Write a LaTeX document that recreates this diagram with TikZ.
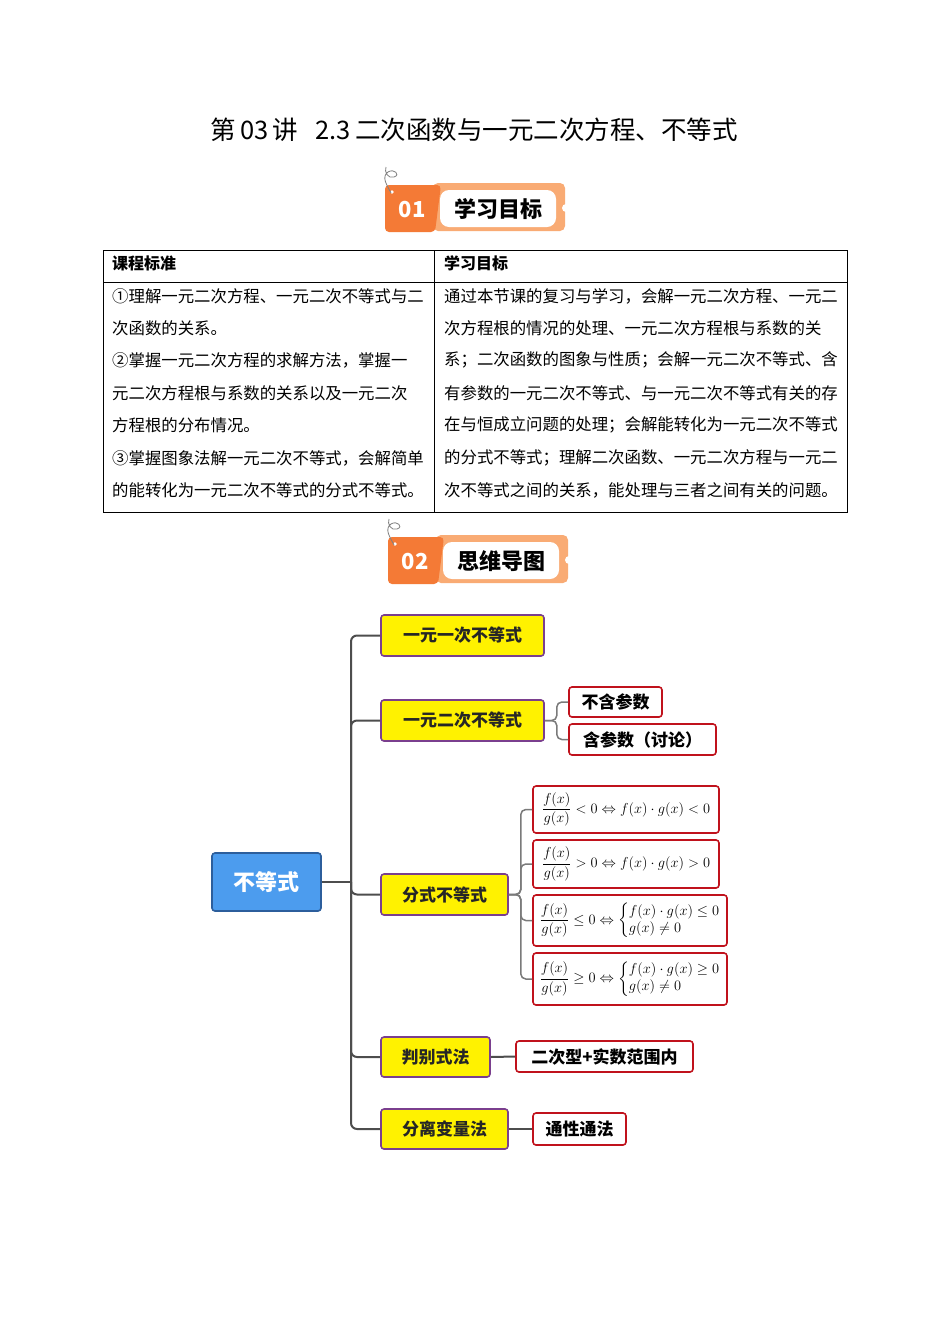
\documentclass[tikz,border=0pt]{standalone}
\usepackage{amsmath}
\usepackage{fontspec}
\setmainfont{Noto Sans CJK SC}
\XeTeXlinebreaklocale "zh"
\XeTeXlinebreakskip=0pt plus 4pt
\definecolor{dorange}{HTML}{F47A36}
\definecolor{lorange}{HTML}{F9AB74}
\definecolor{lpurple}{HTML}{7A3F8E}
\definecolor{dred}{HTML}{C0121C}
\definecolor{rblue}{HTML}{4C9CEE}
\definecolor{rblueb}{HTML}{2C5E9C}
\definecolor{connc}{HTML}{4D4D4D}
\definecolor{subc}{HTML}{7A7A7A}
\tikzset{
  lone/.style={draw=lpurple, line width=1.6pt, fill=yellow, rounded corners=3pt,
    font=\fontsize{17}{20}\selectfont\bfseries, text=black!85, inner sep=0pt},
  leaf/.style={draw=dred, line width=1.6pt, fill=white, rounded corners=3pt,
    font=\fontsize{17}{20}\selectfont\bfseries, text=black, inner sep=0pt},
  fbox/.style={draw=dred, line width=1.6pt, fill=white, rounded corners=3pt,
    font=\fontsize{13.6}{16}\selectfont, inner sep=0pt},
  fboxc/.style={fbox, font=\fontsize{14.6}{17}\selectfont},
  conn/.style={draw=connc, line width=2pt},
  subconn/.style={draw=subc, line width=1.5pt},
  tline/.style={anchor=west, font=\fontsize{16.4}{18}\selectfont, inner sep=0pt},
}
\newcommand\jl[1]{\makebox[314pt][s]{#1}}
\newcommand\jr[1]{\makebox[394pt][s]{#1}}
\newcommand\twocase[2]{\left\{\renewcommand\arraystretch{1.0}\begin{array}{@{}l@{}}#1\\ #2\end{array}\right.}
\newcommand\mybadge[4]{%
  \begin{scope}[shift={(#1,#2)}]
    \fill[lorange, rounded corners=5pt] (48,-2) rectangle (180,46);
    \fill[dorange, rounded corners=4pt] (0,0) -- (56,0) -- (50,47) -- (0,47) -- cycle;
    \fill[white, rounded corners=9pt] (55,5) rectangle (171,42);
    \fill[white] (181,23) circle (4);
    \fill[white] (7,7) circle (1.8);
    \draw[gray, line width=0.8pt] (6,8) .. controls (2,0) and (-4,-8) .. (3,-13)
      .. controls (9,-17) and (16,-10) .. (9,-8) .. controls (3,-6) and (-1,-13) .. (1,-18);
    \node[text=white, font=\fontsize{22}{24}\selectfont\bfseries] (#4num) at (27,25) {#3};
    \node[text=black, font=\fontsize{22}{24}\selectfont\bfseries] (#4txt) at (113,24) {#4};
  \end{scope}}
\begin{document}
\begin{tikzpicture}[x=1pt,y=-1pt]
\useasboundingbox[fill=white] (0,0) rectangle (950,1344);

% title
\node[font=\fontsize{25.5}{28}\selectfont] (title) at (474,130) {第\,03\,讲\ \ \ 2.3\,二次函数与一元二次方程、不等式};

% badge 1
\mybadge{385}{185}{01}{学习目标}

% table
\draw[line width=0.8pt] (103,250) rectangle (847,512);
\draw[line width=0.8pt] (103,282) -- (847,282);
\draw[line width=0.8pt] (434,250) -- (434,512);
\node[tline, font=\fontsize{16}{18}\selectfont\bfseries] (h1) at (112,263) {课程标准};
\node[tline, font=\fontsize{16}{18}\selectfont\bfseries] (h2) at (444,263) {学习目标};

\node[tline] (l1) at (112,296) {\jl{①理解一元二次方程、一元二次不等式与二}};
\node[tline] (l2) at (112,328) {次函数的关系。};
\node[tline] (l3) at (112,360) {\jl{②掌握一元二次方程的求解方法，掌握一}};
\node[tline] (l4) at (112,393) {\jl{元二次方程根与系数的关系以及一元二次}};
\node[tline] (l5) at (112,425) {方程根的分布情况。};
\node[tline] (l6) at (112,458) {\jl{③掌握图象法解一元二次不等式，会解简单}};
\node[tline] (l7) at (112,490) {\jl{的能转化为一元二次不等式的分式不等式。}};

\node[tline] (r1) at (444,296) {\jr{通过本节课的复习与学习，会解一元二次方程、一元二}};
\node[tline] (r2) at (444,328) {\jr{次方程根的情况的处理、一元二次方程根与系数的关}};
\node[tline] (r3) at (444,360) {\jr{系；二次函数的图象与性质；会解一元二次不等式、含}};
\node[tline] (r4) at (444,393) {\jr{有参数的一元二次不等式、与一元二次不等式有关的存}};
\node[tline] (r5) at (444,425) {\jr{在与恒成立问题的处理；会解能转化为一元二次不等式}};
\node[tline] (r6) at (444,458) {\jr{的分式不等式；理解二次函数、一元二次方程与一元二}};
\node[tline] (r7) at (444,490) {\jr{次不等式之间的关系，能处理与三者之间有关的问题。}};

% badge 2
\mybadge{388}{537}{02}{思维导图}

% mind map
\node[draw=rblueb, line width=1.6pt, fill=rblue, rounded corners=3pt, text=white,
  font=\fontsize{22}{24}\selectfont\bfseries, minimum width=109pt, minimum height=58pt, inner sep=0pt]
  (root) at (266.5,882) {不等式};

\node[lone, minimum width=163pt, minimum height=41pt] (n1) at (462.5,635.5) {一元一次不等式};
\node[lone, minimum width=163pt, minimum height=41pt] (n2) at (462.5,720.5) {一元二次不等式};
\node[lone, minimum width=127pt, minimum height=41pt] (n3) at (444.5,894.5) {分式不等式};
\node[lone, minimum width=109pt, minimum height=40pt] (n4) at (435.5,1057) {判别式法};
\node[lone, minimum width=127pt, minimum height=40pt] (n5) at (444.5,1129) {分离变量法};

\node[leaf, minimum width=93pt, minimum height=30pt] (c1) at (615.5,702) {不含参数};
\node[leaf, minimum width=147pt, minimum height=31pt] (c2) at (642.5,739.5) {含参数（讨论）};

\node[fbox, minimum width=186pt, minimum height=47pt] (f1) at (626,809.5)
  {$\dfrac{f(x)}{g(x)}<0\Leftrightarrow f(x)\cdot g(x)<0$};
\node[fbox, minimum width=186pt, minimum height=48pt] (f2) at (626,864)
  {$\dfrac{f(x)}{g(x)}>0\Leftrightarrow f(x)\cdot g(x)>0$};
\node[fboxc, minimum width=194pt, minimum height=51pt] (f3) at (630,920.5)
  {$\dfrac{f(x)}{g(x)}\le0\Leftrightarrow\twocase{f(x)\cdot g(x)\le0}{g(x)\ne0}$};
\node[fboxc, minimum width=194pt, minimum height=52pt] (f4) at (630,979)
  {$\dfrac{f(x)}{g(x)}\ge0\Leftrightarrow\twocase{f(x)\cdot g(x)\ge0}{g(x)\ne0}$};

\node[leaf, minimum width=177pt, minimum height=31pt] (d1) at (604.5,1056.5) {二次型+实数范围内};
\node[leaf, minimum width=93pt, minimum height=32pt] (d2) at (579.5,1129) {通性通法};

\coordinate (tr) at (351,882);
\draw[conn] (root.east) -- (tr);
\foreach \n in {n1,n2,n3,n4,n5}
  \draw[conn, rounded corners=6pt] (tr) |- (\n.west);

\draw[subconn, rounded corners=5pt] (n2.east) -- ++(12,0) |- (c1.west);
\draw[subconn, rounded corners=5pt] (n2.east) -- ++(12,0) |- (c2.west);
\foreach \f in {f1,f2,f3,f4}
  \draw[subconn, rounded corners=5pt] (n3.east) -- ++(12,0) |- (\f.west);
\draw[conn] (n4.east) -- (d1.west);
\draw[conn] (n5.east) -- (d2.west);
\end{tikzpicture}
\end{document}
